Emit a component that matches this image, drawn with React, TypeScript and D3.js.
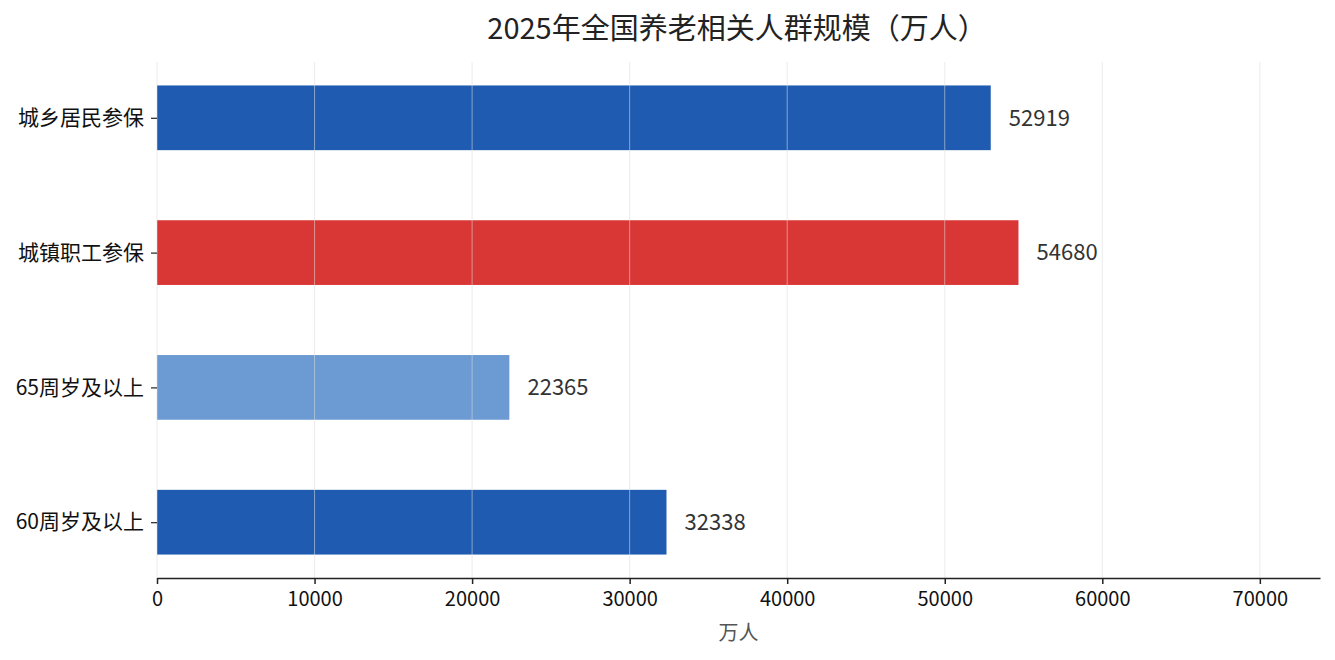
import { axisBottom, axisLeft, scaleLinear, select } from 'd3';
import { useEffect, useRef } from 'react';

// categories listed bottom to top
const categories = ['60周岁及以上', '65周岁及以上', '城镇职工参保', '城乡居民参保'];
const values = [32338, 22365, 54680, 52919];
const barColors = ['#1f5bb0', '#6b9bd2', '#d93636', '#1f5bb0'];
const xTicks = [0, 10000, 20000, 30000, 40000, 50000, 60000, 70000];

const FONT = '"Noto Sans CJK SC", "Noto Sans", sans-serif';

function App(): JSX.Element {
  const svgRef = useRef<SVGSVGElement | null>(null);
  const W = 1335;
  const H = 660;
  const margin = { top: 62, right: 15, bottom: 82, left: 157 };

  useEffect(() => {
    if (svgRef.current) svgRef.current.innerHTML = '';
    const svg = select(svgRef.current);
    svg.attr('width', W).attr('height', H).style('background', '#fff');

    const innerW = W - margin.left - margin.right;
    const innerH = H - margin.top - margin.bottom;

    const barH = 0.48;
    const span = categories.length - 1 + barH;
    const pad = span * 0.05;

    const x = scaleLinear()
      .domain([0, Math.max(...values) * 1.35])
      .range([0, innerW]);
    const y = scaleLinear()
      .domain([-barH / 2 - pad, categories.length - 1 + barH / 2 + pad])
      .range([innerH, 0]);

    const g = svg
      .append('g')
      .attr('transform', `translate(${margin.left},${margin.top})`);

    // bars
    values.forEach((v, i) => {
      g.append('rect')
        .attr('x', x(0))
        .attr('y', y(i + barH / 2))
        .attr('width', x(v) - x(0))
        .attr('height', y(i - barH / 2) - y(i + barH / 2))
        .attr('fill', barColors[i]);

      g.append('text')
        .attr('x', x(v + 1150))
        .attr('y', y(i))
        .attr('dy', '0.35em')
        .attr('fill', '#333')
        .attr('font-family', FONT)
        .attr('font-size', '22px')
        .text(v);
    });

    // grid lines on top of bars
    xTicks.forEach((t) => {
      g.append('line')
        .attr('x1', x(t))
        .attr('x2', x(t))
        .attr('y1', 0)
        .attr('y2', innerH)
        .attr('stroke', '#dddddd')
        .attr('stroke-opacity', 0.7)
        .attr('stroke-width', 0.8);
    });

    // x axis
    const xAxis = g
      .append('g')
      .attr('transform', `translate(0,${innerH})`)
      .call(
        axisBottom(x)
          .tickValues(xTicks)
          .tickSize(6)
          .tickSizeOuter(0)
          .tickPadding(8)
          .tickFormat((d) => String(d))
      );
    xAxis.select('.domain').attr('stroke', '#222').attr('stroke-width', 1.5);
    xAxis.selectAll('.tick line').attr('stroke', '#222').attr('stroke-width', 1.5);
    xAxis
      .selectAll('.tick text')
      .attr('font-family', FONT)
      .attr('font-size', '20px')
      .attr('fill', '#111');

    // y axis
    const yAxis = g
      .append('g')
      .call(
        axisLeft(y)
          .tickValues(categories.map((_c, i) => i))
          .tickSize(6)
          .tickPadding(7)
          .tickFormat((d) => categories[Number(d)])
      );
    yAxis.select('.domain').remove();
    yAxis.selectAll('.tick line').attr('stroke', '#222').attr('stroke-width', 1.2);
    yAxis
      .selectAll('.tick text')
      .attr('font-family', FONT)
      .attr('font-size', '21px')
      .attr('fill', '#111');

    // axis label
    svg
      .append('text')
      .attr('x', margin.left + innerW / 2)
      .attr('y', 640)
      .attr('text-anchor', 'middle')
      .attr('fill', '#555')
      .attr('font-family', FONT)
      .attr('font-size', '20px')
      .text('万人');

    // title
    svg
      .append('text')
      .attr('x', 737)
      .attr('y', 39)
      .attr('text-anchor', 'middle')
      .attr('fill', '#222')
      .attr('font-family', FONT)
      .attr('font-size', '29px')
      .text('2025年全国养老相关人群规模（万人）');
  }, []);

  return (
    <div style={{ position: 'relative', margin: -8 }}>
      <svg ref={svgRef} style={{ display: 'block' }} />
    </div>
  );
}

export default App;
